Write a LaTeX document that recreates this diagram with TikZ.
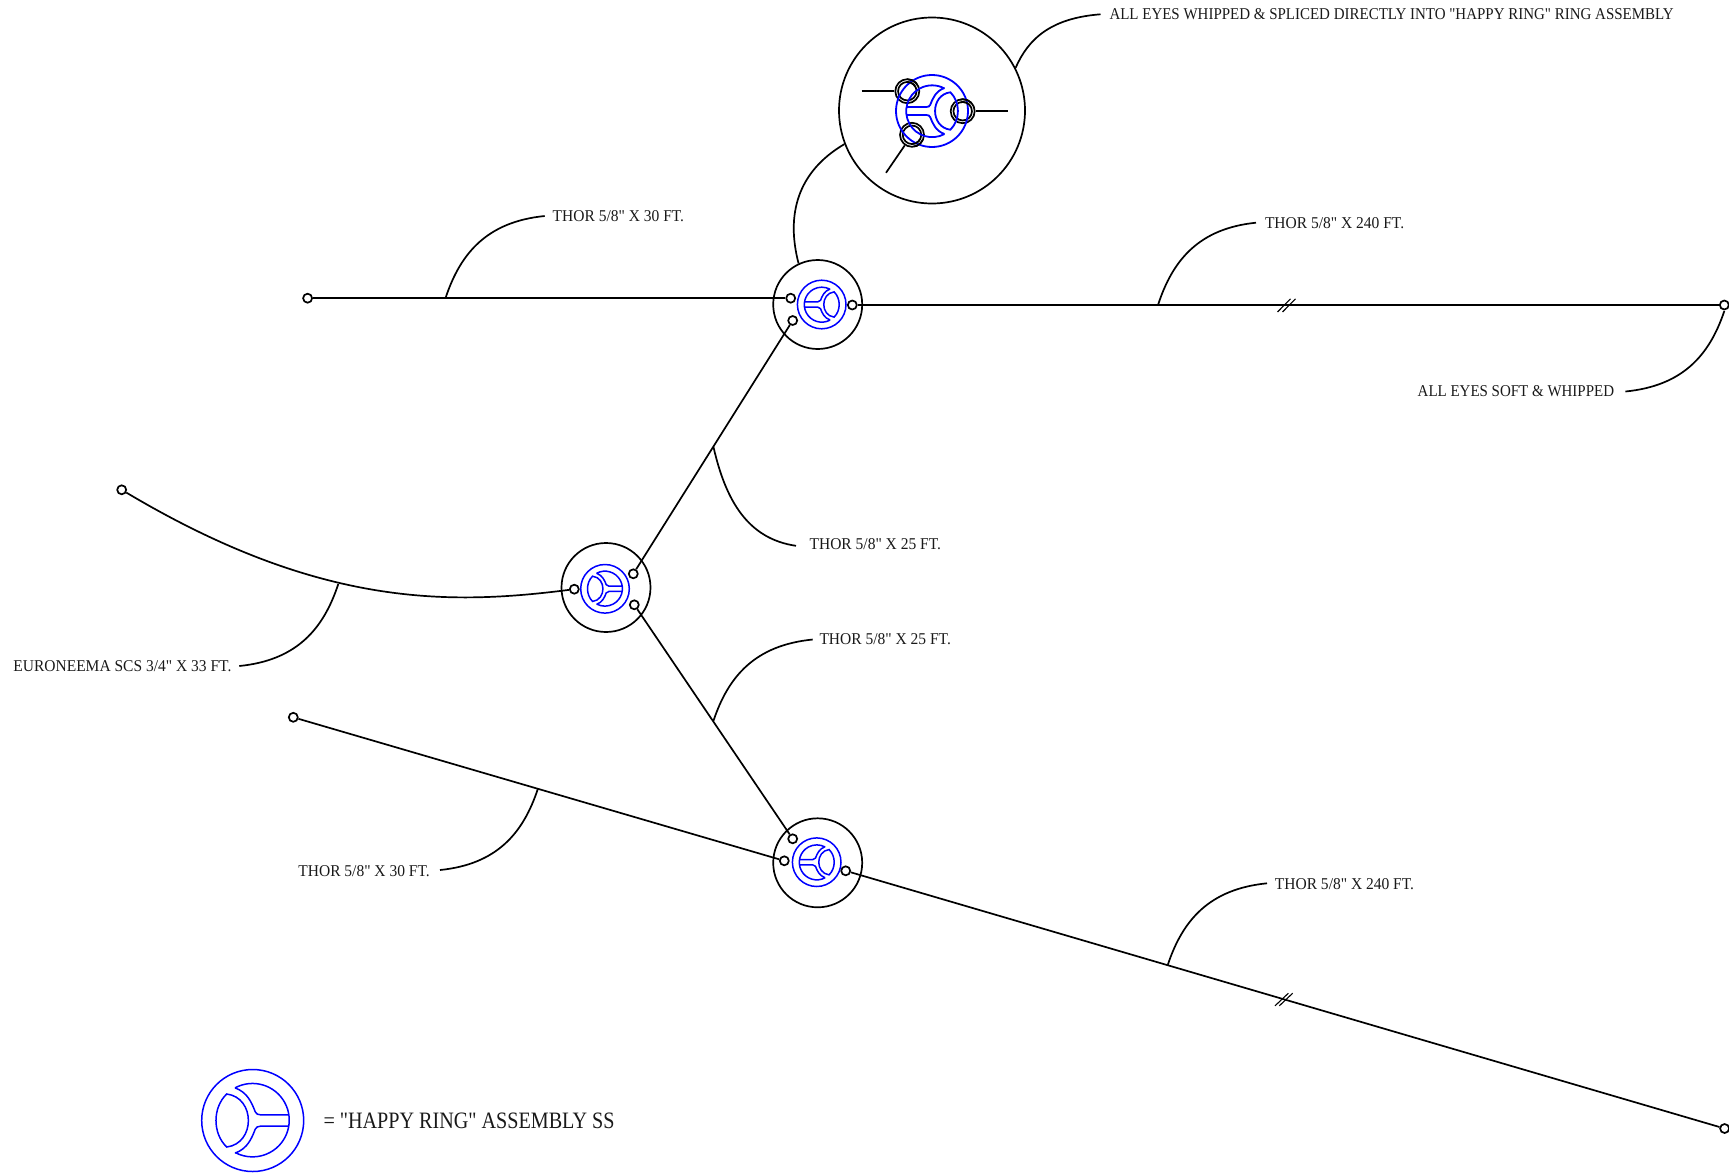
\documentclass[tikz,border=0pt]{standalone}
\usepackage{fontspec}
\newfontfamily\labfont[FakeStretch=0.908]{Liberation Serif}
\newfontfamily\numfont[FakeStretch=0.94]{Liberation Serif}
\newfontfamily\legfont[FakeStretch=0.857]{Liberation Serif}
\usetikzlibrary{calc}
\newcommand{\ringouter}{\draw[blueline] (0,0) circle (1);}
\newcommand{\ringinner}{\draw[blueline]
      (-.346,-.64) arc[start angle=-118.4,end angle=118.4,radius=.72]
      (-.346,-.64) .. controls (-.1,-.55) and (-.02,-.35) .. (.05,-.17)
        .. controls (.07,-.13) and (.1,-.11) .. (.16,-.11) -- (.715,-.11)
      (-.346,.64) .. controls (-.1,.55) and (-.02,.35) .. (.05,.17)
        .. controls (.07,.13) and (.1,.11) .. (.16,.11) -- (.715,.11)
      (-.51,-.52) .. controls (-.79,-.25) and (-.79,.25) .. (-.51,.52)
        .. controls (.057,.45) and (.057,-.45) .. (-.51,-.52) -- cycle;}
\tikzset{
  blueline/.style={blue,line width=1.5pt},
  line/.style={draw=black,line width=1.7pt},
  slash/.style={draw=black,line width=1.1pt},
  eyelet/.style={circle,draw=black,line width=1.7pt,inner sep=0pt,minimum size=9pt},
  hub/.style={circle,draw=black,line width=1.7pt,inner sep=0pt,minimum size=89pt},
  detail/.style={circle,draw=black,line width=1.7pt,inner sep=0pt,minimum size=186pt},
  bigeye/.style={circle,draw=black,line width=1.7pt,inner sep=0pt,minimum size=#1},
  lab/.style={inner sep=0pt,font=\numfont\fontsize{16.5}{18}\selectfont,text=black!90},
  leader/.style={to path={let \p1=(\tikztostart),\p2=(\tikztotarget) in
     .. controls ({\x1+.15*(\x2-\x1)},{\y1+.55*(\y2-\y1)}) and ({\x1+.42*(\x2-\x1)},{\y1+.93*(\y2-\y1)}) .. (\tikztotarget)}},
  happyring/.pic={\ringouter\ringinner}
}
\begin{document}
\begin{tikzpicture}[x=1pt,y=-1pt]
\useasboundingbox (0,0) rectangle (1729,1173);
% hubs
\node[hub] (hubA) at (817.7,304.5) {};
\node[hub] (hubB) at (606,587.5) {};
\node[hub] (hubC) at (817.7,862.8) {};
\node[detail] (det) at (932,110.5) {};
\pic[rotate=180,scale=24.3] at (821.7,304.5) {happyring};
\pic[scale=24.3] at (605,588.8) {happyring};
\pic[rotate=180,scale=24.3] at (816.7,862.2) {happyring};
\pic[scale=51] at (252.7,1120.5) {happyring};
% eyes
\node[eyelet] (a1) at (307.6,298.2) {};
\node[eyelet] (a2) at (790.7,298.2) {};
\node[eyelet] (a3) at (792.7,320.5) {};
\node[eyelet] (a4) at (852.3,305) {};
\node[eyelet] (r1) at (1724.3,305) {};
\node[eyelet] (b1) at (633.3,573.8) {};
\node[eyelet] (b2) at (634.3,604.8) {};
\node[eyelet] (b3) at (574.3,589.2) {};
\node[eyelet] (l1) at (121.7,489.8) {};
\node[eyelet] (c1) at (792.7,838.8) {};
\node[eyelet] (c2) at (784.3,860.8) {};
\node[eyelet] (c3) at (845.7,870.8) {};
\node[eyelet] (l2) at (293.3,717.3) {};
\node[eyelet] (r2) at (1724.6,1128.5) {};
% main lines
\draw[line] (a1) -- (a2);
\draw[line] (a4) -- (r1);
\draw[line] (a3) -- (b1);
\draw[line] (b2) -- (c1);
\draw[line] (l2) -- (c2);
\draw[line] (c3) -- (r2);
\draw[line] (l1) .. controls (320,608) and (450,605) .. (b3);
% break marks
\coordinate (s1a) at (1277.5,312); \coordinate (s1b) at (1290.5,298.8);
\coordinate (s2a) at (1282.5,312); \coordinate (s2b) at (1295.5,298.8);
\draw[slash] (s1a) -- (s1b); \draw[slash] (s2a) -- (s2b);
\coordinate (s3a) at (1275,1005.8); \coordinate (s3b) at (1288.4,993.2);
\coordinate (s4a) at (1279.3,1005.8); \coordinate (s4b) at (1292.7,993.2);
\draw[slash] (s3a) -- (s3b); \draw[slash] (s4a) -- (s4b);
% detail inset: eyes threaded through the ring
\node[bigeye=24pt] (d1o) at (907.3,91.2) {};
\node[bigeye=18.5pt] (d1i) at (907.3,91.2) {};
\node[bigeye=24pt] (d2o) at (962.7,111.2) {};
\node[bigeye=18.5pt] (d2i) at (962.7,111.2) {};
\node[bigeye=24pt] (d3o) at (912,134.8) {};
\node[bigeye=18.5pt] (d3i) at (912,134.8) {};
\begin{scope}[blueline/.style={blue,line width=1.8pt}]
\pic[rotate=180,scale=36] at (932,111) {happyring};
\end{scope}
\begin{scope}
\clip (912.8,80.6) circle (6) (966.2,99.6) circle (6) (919.1,144.6) circle (6);
\draw[line] (907.3,91.2) circle (12) (907.3,91.2) circle (9.25)
  (962.7,111.2) circle (12) (962.7,111.2) circle (9.25)
  (912,134.8) circle (12) (912,134.8) circle (9.25);
\end{scope}
\coordinate (d1e) at (861.7,91.2);
\coordinate (d2e) at (1008.3,111.2);
\coordinate (d3e) at (886,172.8);
\draw[line] (d1e) -- (d1o);
\draw[line] (d2o) -- (d2e);
\draw[line] (d3o) -- (d3e);
% leaders
\coordinate (q1) at (445.5,298.2); \coordinate (t1) at (544.7,216);
\coordinate (q2) at (1158,305); \coordinate (t2) at (1256,222.7);
\coordinate (t3) at (1100.5,14.3);
\coordinate (q4) at (1724.3,311); \coordinate (t4) at (1625.4,391.5);
\coordinate (q5) at (713.4,446.6); \coordinate (t5) at (796,545.8);
\coordinate (q6) at (713.4,721); \coordinate (t6) at (812.7,639.5);
\coordinate (q7) at (338.3,584); \coordinate (t7) at (239.3,666);
\coordinate (q8) at (538,788.4); \coordinate (t8) at (440,870);
\coordinate (q9) at (1167.8,964.8); \coordinate (t9) at (1267,883.3);
\draw[line] (q1) to[leader] (t1);
\draw[line] (q2) to[leader] (t2);
\draw[line] (det.27.5) to[leader] (t3);
\draw[line] (q4) to[leader] (t4);
\draw[line] (q5) to[leader] (t5);
\draw[line] (q6) to[leader] (t6);
\draw[line] (q7) to[leader] (t7);
\draw[line] (q8) to[leader] (t8);
\draw[line] (q9) to[leader] (t9);
\draw[line] (hubA.115.5) .. controls (786,215) and (797,172) .. (det.201.6);
% labels
\node[lab,anchor=west] (n1) at (552.5,216) {THOR 5/8" X 30 FT.};
\node[lab,anchor=west] (n2) at (1264.8,222.7) {THOR 5/8" X 240 FT.};
\node[lab,anchor=west,font=\labfont\fontsize{16.5}{18}\selectfont] (n3) at (1109.3,14.3) {ALL EYES WHIPPED \& SPLICED DIRECTLY INTO "HAPPY RING" RING ASSEMBLY};
\node[lab,anchor=east,font=\labfont\fontsize{16.5}{18}\selectfont] (n4) at (1614.3,391.4) {ALL EYES SOFT \& WHIPPED};
\node[lab,anchor=west] (n5) at (809.4,544.6) {THOR 5/8" X 25 FT.};
\node[lab,anchor=west] (n6) at (819.3,639.5) {THOR 5/8" X 25 FT.};
\node[lab,anchor=east] (n7) at (231.6,666) {EURONEEMA SCS 3/4" X 33 FT.};
\node[lab,anchor=east] (n8) at (430,871) {THOR 5/8" X 30 FT.};
\node[lab,anchor=west] (n9) at (1274.7,884.3) {THOR 5/8" X 240 FT.};
\node[lab,anchor=west,font=\legfont\fontsize{23.5}{25}\selectfont] (n10) at (323.3,1121) {= "HAPPY RING" ASSEMBLY SS};
\end{tikzpicture}
\end{document}
